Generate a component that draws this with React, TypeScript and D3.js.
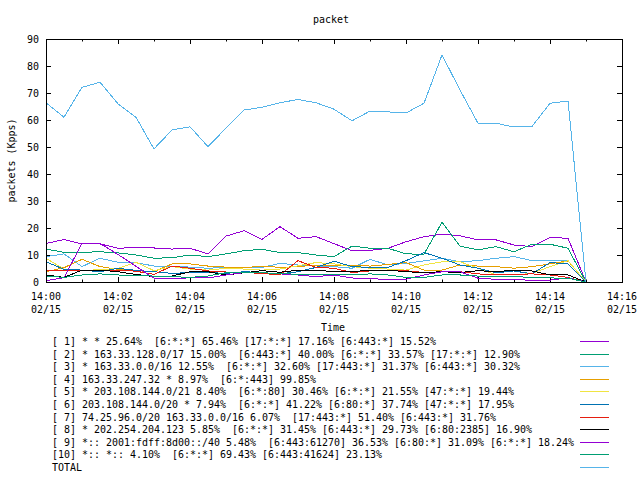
import React from "react";
import * as d3 from "d3";

const times = [
  "14:00:00", "14:00:30", "14:01:00", "14:01:30", "14:02:00", "14:02:30", "14:03:00", "14:03:30",
  "14:04:00", "14:04:30", "14:05:00", "14:05:30", "14:06:00", "14:06:30", "14:07:00", "14:07:30",
  "14:08:00", "14:08:30", "14:09:00", "14:09:30", "14:10:00", "14:10:30", "14:11:00", "14:11:30",
  "14:12:00", "14:12:30", "14:13:00", "14:13:30", "14:14:00", "14:14:30", "14:15:00",
];

const s1 = [14.3, 15.7, 14.1, 14.1, 12.5, 12.8, 12.6, 12.2, 12.5, 10.4, 17, 19, 15.8, 20.5, 16.2, 16.8, 14.2, 11.6, 11.7, 12.5, 14.9, 16.8, 17.7, 17.1, 15.6, 15.6, 13.7, 13.1, 16.5, 16.2, 0];
const s2 = [12.2, 11, 11, 11.2, 10.8, 10, 8.8, 9, 10, 9.4, 10.4, 11.6, 12.1, 10.9, 10.9, 10, 9.4, 13.3, 12.5, 12.5, 10.4, 10.3, 22.1, 13.3, 11.9, 13.1, 11.2, 14, 14, 12.5, 0];
const s3 = [9.4, 10.4, 5.7, 8.8, 7.3, 7.2, 5.9, 5.9, 5.5, 5.1, 5.4, 5.4, 5.4, 6.9, 6.3, 6, 5.7, 5.1, 8.4, 6.3, 6.9, 7.8, 8.8, 7.5, 7.9, 8.8, 9.4, 7.9, 8.1, 7.9, 0];
const s4 = [3.8, 5.3, 8.4, 5.7, 4.7, 4.2, 3.8, 6.7, 6.7, 5.9, 5.5, 5.3, 5.9, 5.4, 5.7, 6.3, 6, 6.3, 5.9, 6.5, 7.2, 4.4, 4.4, 6.3, 5.9, 5.7, 5.1, 5.7, 6.7, 7.8, 0];
const s5 = [8.8, 4.8, 4.2, 4.6, 5, 7.3, 4.2, 5.7, 4.8, 4.4, 5.1, 4.8, 4.4, 4.8, 6, 7.2, 6.7, 5.7, 5.1, 4.8, 4.4, 6.3, 7.5, 7.5, 5.1, 2.6, 2.6, 3.2, 5.7, 7.9, 0];
const s6 = [7.5, 4.7, 4.4, 3.8, 5.1, 4.3, 3.8, 3.2, 3.5, 3.5, 3.2, 3.8, 3.5, 3, 3.8, 5.4, 7.7, 5.7, 5.4, 5.4, 7.9, 10.9, 8.8, 6.3, 5.1, 3.4, 4.1, 3, 7.2, 6.7, 0];
const s7 = [4.4, 4.4, 4.1, 4.4, 4.4, 4, 2.8, 5.9, 5.1, 4.1, 3.7, 3.5, 3.2, 2.6, 7.9, 5.4, 5.1, 3.5, 4.1, 4.4, 4.2, 3.5, 3.8, 3.8, 3, 2.6, 2.8, 3, 2.6, 1.7, 0];
const s8 = [2.6, 1.7, 4.4, 4.4, 3.8, 2.8, 2, 2.2, 3.8, 3.8, 2.6, 3.4, 4.2, 3.6, 4.4, 4.4, 3.8, 3.8, 4.4, 4.4, 3.8, 3.5, 3.8, 3.5, 4.2, 3.8, 4.4, 4.1, 2.6, 2.6, 0];
const s9 = [0.5, 1.6, 14.3, 14.3, 10.2, 5.8, 1.4, 1.4, 1.5, 1.5, 2.6, 3.5, 3.5, 3, 2.6, 2, 2.6, 1.5, 1.2, 1, 1, 2.6, 3.8, 3.8, 1.4, 1, 0.8, 0.7, 0.7, 1.5, 0];
const s10 = [2.2, 1.7, 2.6, 3, 2.6, 2.4, 2.2, 2, 1.7, 2.2, 3.5, 3.5, 3.4, 3.2, 2.8, 2.6, 2.6, 2.6, 3, 2.6, 1.7, 1.7, 2.6, 2.6, 2.2, 2.2, 2, 1.7, 1.5, 1.4, 0];
const total = [66.4, 61, 72.1, 74, 66, 61, 49.3, 56.3, 57.5, 50.1, 57, 63.7, 64.7, 66.4, 67.6, 66.4, 64, 59.7, 63.3, 63, 62.6, 66.2, 84.1, 71.1, 58.8, 58.8, 57.4, 57.6, 66.2, 67, 0];

const seriesLabels = [
  "[ 1] * * 25.64%  [6:*:*] 65.46% [17:*:*] 17.16% [6:443:*] 15.52%",
  "[ 2] * 163.33.128.0/17 15.00%  [6:443:*] 40.00% [6:*:*] 33.57% [17:*:*] 12.90%",
  "[ 3] * 163.33.0.0/16 12.55%  [6:*:*] 32.60% [17:443:*] 31.37% [6:443:*] 30.32%",
  "[ 4] 163.33.247.32 * 8.97%  [6:*:443] 99.85%",
  "[ 5] * 203.108.144.0/21 8.40%  [6:*:80] 30.46% [6:*:*] 21.55% [47:*:*] 19.44%",
  "[ 6] 203.108.144.0/20 * 7.94%  [6:*:*] 41.22% [6:80:*] 37.74% [47:*:*] 17.95%",
  "[ 7] 74.25.96.0/20 163.33.0.0/16 6.07%  [17:443:*] 51.40% [6:443:*] 31.76%",
  "[ 8] * 202.254.204.123 5.85%  [6:*:*] 31.45% [6:443:*] 29.73% [6:80:2385] 16.90%",
  "[ 9] *:: 2001:fdff:8d00::/40 5.48%  [6:443:61270] 36.53% [6:80:*] 31.09% [6:*:*] 18.24%",
  "[10] *:: *:: 4.10%  [6:*:*] 69.43% [6:443:41624] 23.13%",
  "TOTAL",
];
const seriesColors = ["#9400d3", "#009e73", "#56b4e9", "#e69f00", "#f0e442", "#0072b2", "#e51e10", "#000000", "#9400d3", "#009e73", "#56b4e9"];
const seriesValues = [s1, s2, s3, s4, s5, s6, s7, s8, s9, s10, total];

const xTickLabels = ["14:00", "14:02", "14:04", "14:06", "14:08", "14:10", "14:12", "14:14", "14:16"];
const dateLabel = "02/15";
const yTicks = [0, 10, 20, 30, 40, 50, 60, 70, 80, 90];

const W = 640, H = 480;
const L = 46, R = 622, T = 39, B = 282;
const FONT = "'DejaVu Sans Mono', 'Liberation Mono', monospace";
const CW = 6; // character width in px

function toMin(t: string) {
  const [h, m, s] = t.split(":").map(Number);
  return (h - 14) * 60 + m + s / 60;
}

function Txt(props: { x: number; y: number; anchor?: string; children: string; transform?: string }) {
  const len = props.children.length * CW;
  return (
    <text
      x={props.x}
      y={props.y}
      textAnchor={props.anchor || "start"}
      transform={props.transform}
      textLength={len}
      lengthAdjust="spacingAndGlyphs"
      style={{ whiteSpace: "pre" }}
    >
      {props.children}
    </text>
  );
}

export default function App() {
  const x = d3.scaleLinear().domain([0, 16]).range([L, R]);
  const y = d3.scaleLinear().domain([0, 90]).range([B, T]);
  const mins = times.map(toMin);
  const line = d3.line<number>().x((_, i) => x(mins[i])).y((v) => y(v));
  const minorTicks = d3.range(0, 17, 1);

  return (
    <svg width={W} height={H} style={{ position: "absolute", left: 0, top: 0, background: "#fff" }} fontFamily={FONT} fontSize={10}>
      <rect x={0} y={0} width={W} height={H} fill="#fff" />
      <Txt x={331} y={23} anchor="middle">packet</Txt>
      <Txt x={0} y={0} anchor="middle" transform={`translate(15,${(T + B) / 2}) rotate(-90)`}>packets (Kpps)</Txt>
      {yTicks.map((v) => (
        <g key={"y" + v}>
          <line x1={L} x2={L + 5} y1={Math.round(y(v)) + 0.5} y2={Math.round(y(v)) + 0.5} stroke="#000" />
          <line x1={R - 5} x2={R} y1={Math.round(y(v)) + 0.5} y2={Math.round(y(v)) + 0.5} stroke="#000" />
          <Txt x={39} y={y(v) + 4} anchor="end">{String(v)}</Txt>
        </g>
      ))}
      {minorTicks.map((m) => {
        const major = m % 2 === 0;
        const len = major ? 5 : 2.5;
        const px = Math.round(x(m)) + 0.5;
        return (
          <g key={"x" + m}>
            <line x1={px} x2={px} y1={B} y2={B - len} stroke="#000" />
            <line x1={px} x2={px} y1={T} y2={T + len} stroke="#000" />
          </g>
        );
      })}
      {xTickLabels.map((lab, i) => (
        <g key={"xl" + i}>
          <Txt x={x(i * 2)} y={300} anchor="middle">{lab}</Txt>
          <Txt x={x(i * 2)} y={313} anchor="middle">{dateLabel}</Txt>
        </g>
      ))}
      <Txt x={333} y={331} anchor="middle">Time</Txt>
      {seriesValues.map((vals, i) => (
        <path key={"s" + i} d={line(vals) || ""} fill="none" stroke={seriesColors[i]} strokeWidth={1} shapeRendering="crispEdges" />
      ))}
      <rect x={L + 0.5} y={T + 0.5} width={R - L} height={B - T} fill="none" stroke="#000" />
      {seriesLabels.map((lab, i) => {
        const cy = 341 + i * 12.6;
        return (
          <g key={"lg" + i}>
            <Txt x={52} y={cy + 4}>{lab}</Txt>
            <line x1={580} x2={609} y1={Math.round(cy) + 0.5} y2={Math.round(cy) + 0.5} stroke={seriesColors[i]} />
          </g>
        );
      })}
    </svg>
  );
}
